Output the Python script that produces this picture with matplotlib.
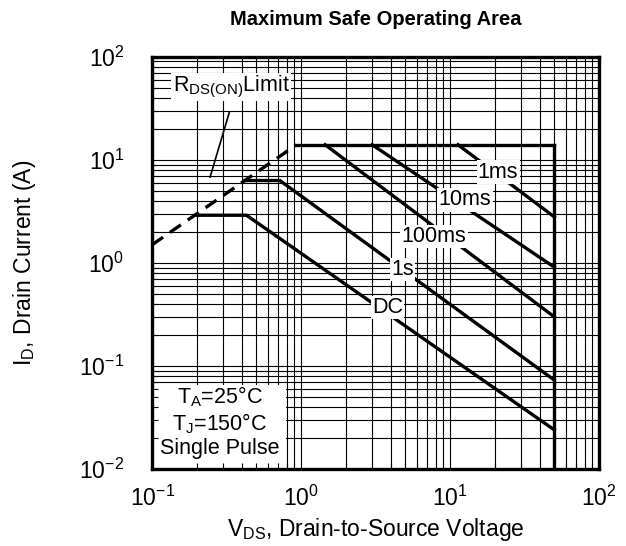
import matplotlib
matplotlib.use("Agg")
import matplotlib.pyplot as plt
from matplotlib.patches import Rectangle

plt.rcParams['font.family'] = ['Liberation Sans', 'DejaVu Sans']
plt.rcParams['mathtext.fontset'] = 'custom'
plt.rcParams['mathtext.rm'] = 'Liberation Sans'
plt.rcParams['mathtext.it'] = 'Liberation Sans'
plt.rcParams['mathtext.bf'] = 'Liberation Sans:bold'

# SOA boundaries (V in volts, I in amps)
rds_v = [0.1, 0.93]
rds_i = [1.5, 14]
top_v = [0.93, 50]
top_i = [14, 14]
vmax_v = [50, 50]
vmax_i = [14, 0.01]
ms1_v = [11.3, 50]
ms1_i = [14, 2.8]
ms10_v = [3.0, 50]
ms10_i = [14, 0.91]
ms100_v = [1.45, 50]
ms100_i = [14, 0.30]
s1_v = [0.42, 0.72, 50]
s1_i = [6.3, 6.3, 0.073]
dc_v = [0.2, 0.43, 50]
dc_i = [2.9, 2.9, 0.024]

curve_labels = ["1ms", "10ms", "100ms", "1s", "DC"]
label_v = [21, 12.6, 7.8, 4.8, 3.8]
label_i = [7.6, 4.1, 1.8, 0.86, 0.37]

fig = plt.figure(figsize=(6.26, 5.46), dpi=100)
ax = fig.add_axes([0.243, 0.141, 0.714, 0.755])
ax.set_xscale('log')
ax.set_yscale('log')
ax.set_xlim(0.1, 100)
ax.set_ylim(0.01, 100)

# grid drawn by hand so the note box can hide it
for d in [0.1, 1, 10]:
    for m in range(1, 10):
        ax.axvline(d * m, color='black', lw=0.8, zorder=1)
for d in [0.01, 0.1, 1, 10]:
    for m in range(1, 10):
        ax.axhline(d * m, color='black', lw=0.8, zorder=1)

lw = 2.4
ax.plot(rds_v, rds_i, color='black', lw=lw, ls=(0, (4.0, 2.5)), zorder=3)
ax.plot(top_v, top_i, color='black', lw=lw, zorder=3)
ax.plot(vmax_v, vmax_i, color='black', lw=lw, zorder=3)
ax.plot(ms1_v, ms1_i, color='black', lw=lw, zorder=3)
ax.plot(ms10_v, ms10_i, color='black', lw=lw, zorder=3)
ax.plot(ms100_v, ms100_i, color='black', lw=lw, zorder=3)
ax.plot(s1_v, s1_i, color='black', lw=lw, zorder=3)
ax.plot(dc_v, dc_i, color='black', lw=lw, zorder=3)

for name, v, i in zip(curve_labels, label_v, label_i):
    ax.text(v, i, name, fontsize=15.5, ha='center', va='center', zorder=5,
            bbox=dict(facecolor='white', edgecolor='none', pad=1.0))

ax.text(0.34, 51, r'R$_{\mathregular{DS(ON)}}$Limit', fontsize=15.5, ha='center', va='center',
        zorder=5, bbox=dict(facecolor='white', edgecolor='none', pad=1.0))
ax.plot([0.33, 0.245], [29, 6.8], color='black', lw=1.2, zorder=4)

# note box in the lower left corner
ax.add_patch(Rectangle((0, 0), 0.3, 0.205, transform=ax.transAxes,
                       facecolor='white', edgecolor='none', zorder=2))
ax.text(0.152, 0.175, r'T$_\mathregular{A}$=25°C', transform=ax.transAxes, fontsize=15.5,
        ha='center', va='center', zorder=5)
ax.text(0.152, 0.11, r'T$_\mathregular{J}$=150°C', transform=ax.transAxes, fontsize=15.5,
        ha='center', va='center', zorder=5)
ax.text(0.152, 0.05, 'Single Pulse', transform=ax.transAxes, fontsize=15.5,
        ha='center', va='center', zorder=5)

ax.set_axisbelow(False)
ax.tick_params(which='both', direction='in', labelsize=16.5)
ax.tick_params(which='minor', length=4, width=0.8)
ax.tick_params(axis='y', which='major', length=0, pad=20)
ax.tick_params(axis='x', which='major', length=0, pad=12)
for s in ax.spines.values():
    s.set_linewidth(2.4)
    s.set_zorder(6)

ax.set_xlabel(r'V$_{\mathregular{DS}}$, Drain-to-Source Voltage', fontsize=16.5, labelpad=4)
ax.set_ylabel(r'I$_\mathregular{D}$, Drain Current (A)', fontsize=16.5, labelpad=30)
ax.set_title('Maximum Safe Operating Area', fontsize=14.5, fontweight='bold', pad=23)

fig.savefig('out.png', dpi=100)
